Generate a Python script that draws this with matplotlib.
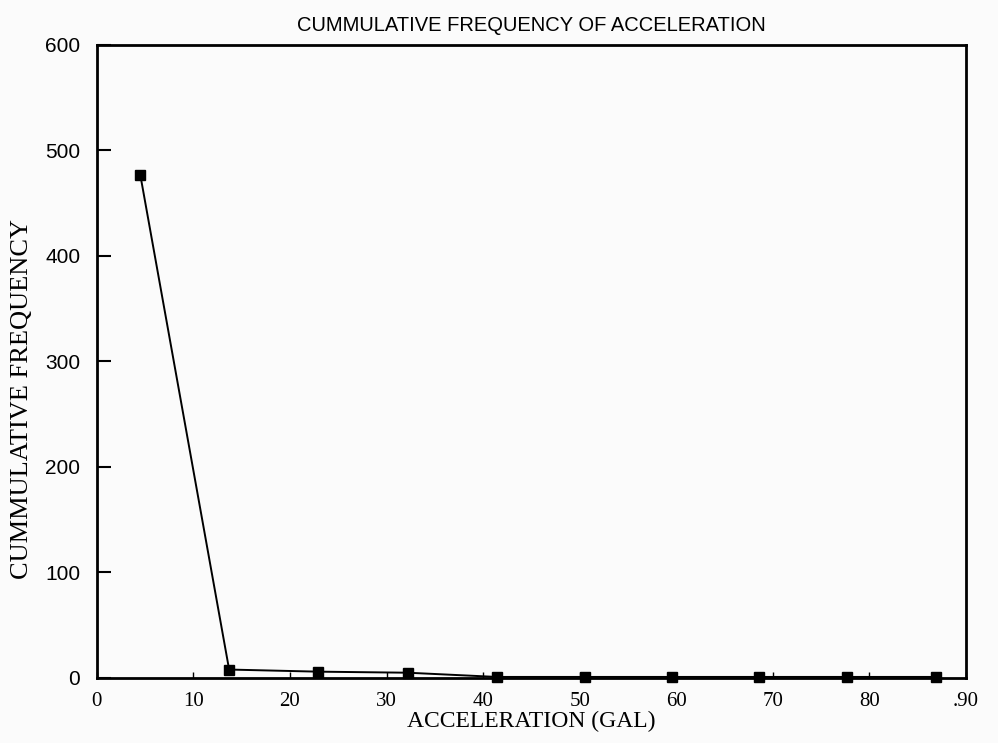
import numpy as np
import matplotlib.pyplot as plt

# values
accel = [4.5, 13.7, 22.9, 32.2, 41.4, 50.5, 59.6, 68.6, 77.7, 86.9]
cum_freq = [477, 8, 6, 5, 1, 1, 1, 1, 1, 1]

x_ticks = [0, 10, 20, 30, 40, 50, 60, 70, 80, 90]
x_tick_labels = ["0", "10", "20", "30", "40", "50", "60", "70", "80", ".90"]
y_ticks = [0, 100, 200, 300, 400, 500, 600]

serif = ["Liberation Serif", "DejaVu Serif"]
narrow = ["Liberation Sans Narrow", "Liberation Sans", "DejaVu Sans"]

fig = plt.figure(figsize=(9.98, 7.43), dpi=100)
fig.patch.set_facecolor("#fbfbfb")
ax = fig.add_axes([0.097, 0.0875, 0.871, 0.852])
ax.set_facecolor("#fbfbfb")

ax.plot(accel, cum_freq, color="black", lw=1.4, marker="s", ms=7,
        markerfacecolor="black", markeredgecolor="black", clip_on=False, zorder=3)

ax.set_xlim(0, 90)
ax.set_ylim(0, 600)
ax.set_xticks(x_ticks)
ax.set_xticklabels(x_tick_labels, family=serif, fontsize=15)
ax.set_yticks(y_ticks)
ax.set_yticklabels([str(v) for v in y_ticks], family=narrow, fontsize=15)
ax.tick_params(axis="y", direction="in", length=10, width=1.5, pad=12)
ax.tick_params(axis="x", direction="in", length=4, width=1, pad=10)

for s in ax.spines.values():
    s.set_linewidth(2)

ax.set_xlabel("ACCELERATION (GAL)", family=serif, fontsize=17, labelpad=0)
ax.set_ylabel("CUMMULATIVE FREQUENCY", family=serif, fontsize=19)
ax.yaxis.set_label_coords(-0.073, 0.44)
ax.set_title("CUMMULATIVE FREQUENCY OF ACCELERATION", family=narrow,
             fontsize=14.5, pad=10)

fig.savefig("out.png", dpi=100, facecolor=fig.get_facecolor())
